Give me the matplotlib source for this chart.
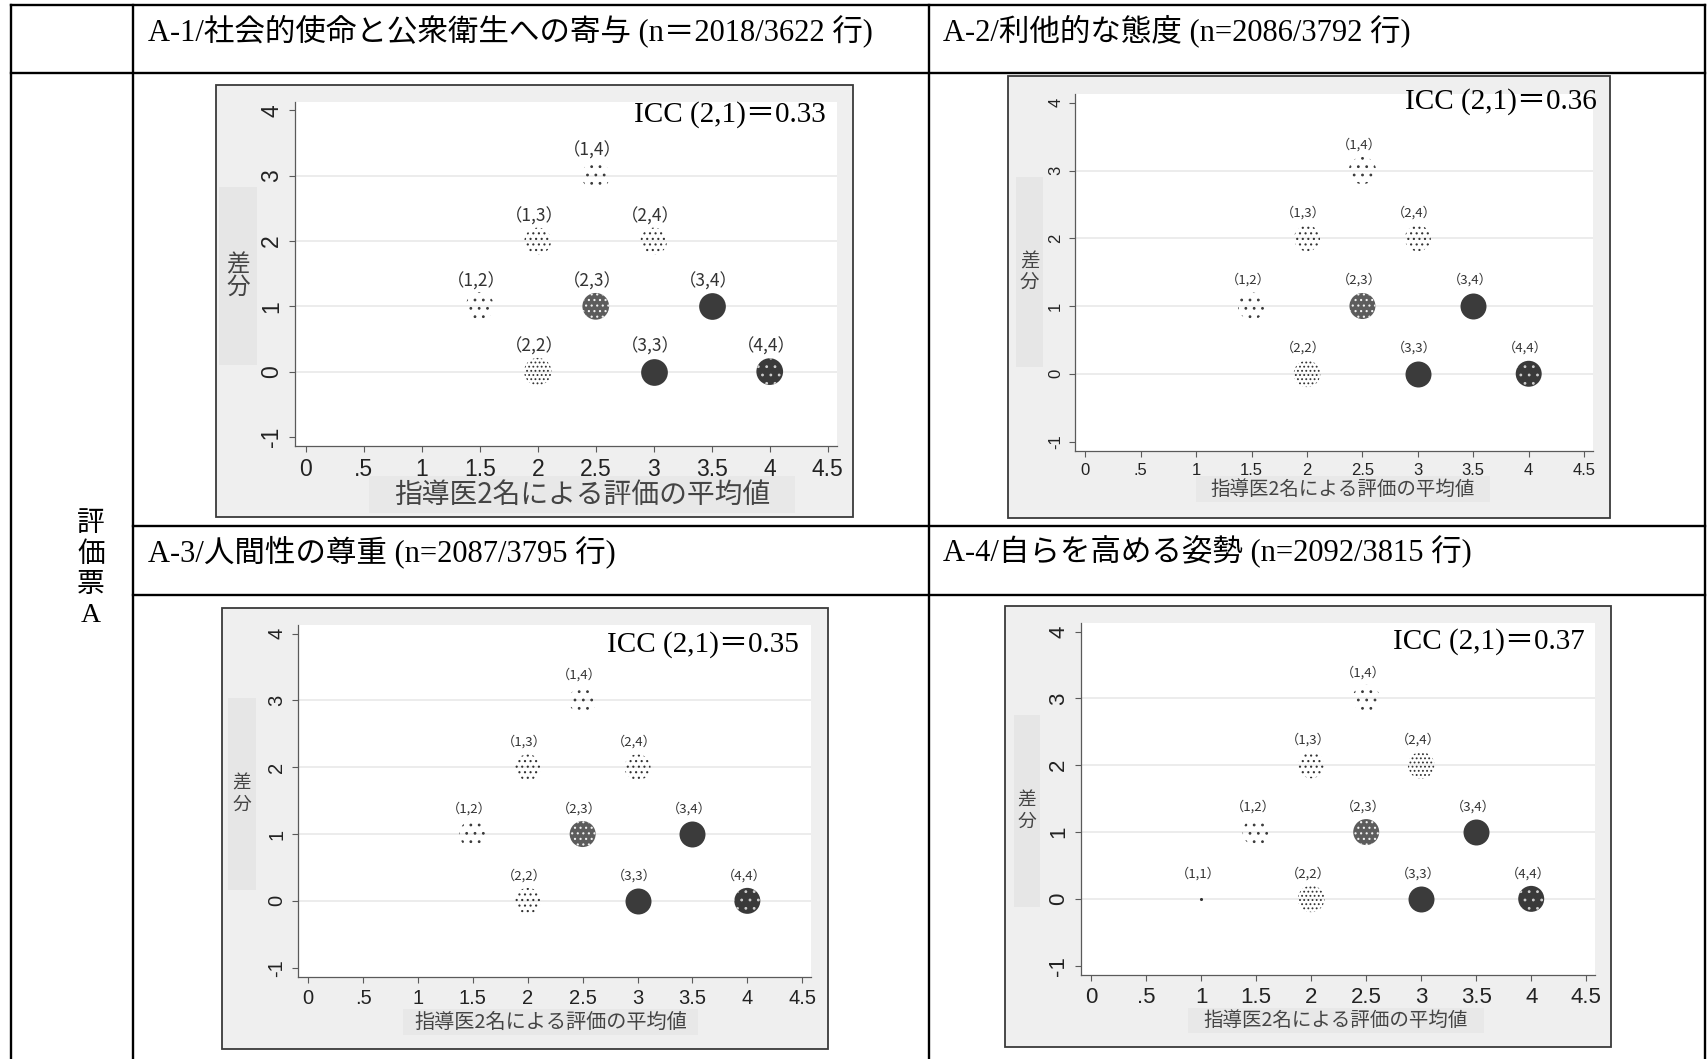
import matplotlib
matplotlib.use("Agg")
import matplotlib.pyplot as plt
from matplotlib.patches import Rectangle
from matplotlib.lines import Line2D

W, H = 1708, 1059

# ---------------- data ----------------
panel_titles = [
    "A-1/社会的使命と公衆衛生への寄与 (n＝2018/3622 行)",
    "A-2/利他的な態度 (n=2086/3792 行)",
    "A-3/人間性の尊重 (n=2087/3795 行)",
    "A-4/自らを高める姿勢 (n=2092/3815 行)",
]
row_label = "評価票A"
icc_values = [0.33, 0.36, 0.35, 0.37]
x_title = "指導医2名による評価の平均値"
y_title = "差分"
x_ticks = [0, 0.5, 1, 1.5, 2, 2.5, 3, 3.5, 4, 4.5]
x_tick_labels = ["0", ".5", "1", "1.5", "2", "2.5", "3", "3.5", "4", "4.5"]
y_ticks = [-1, 0, 1, 2, 3, 4]
y_grid = [0, 1, 2, 3]

# rater score pairs, mean of two raters, difference, and density level (0=single .. 6=solid)
pairs_a1 = ["1,2", "1,3", "1,4", "2,2", "2,3", "2,4", "3,3", "3,4", "4,4"]
mean_a1 = [1.5, 2.0, 2.5, 2.0, 2.5, 3.0, 3.0, 3.5, 4.0]
diff_a1 = [1, 2, 3, 0, 1, 2, 0, 1, 0]
dens_a1 = [1, 2, 1, 3, 4, 2, 6, 6, 5]

pairs_a2 = ["1,2", "1,3", "1,4", "2,2", "2,3", "2,4", "3,3", "3,4", "4,4"]
mean_a2 = [1.5, 2.0, 2.5, 2.0, 2.5, 3.0, 3.0, 3.5, 4.0]
diff_a2 = [1, 2, 3, 0, 1, 2, 0, 1, 0]
dens_a2 = [1, 2, 1, 3, 4, 2, 6, 6, 5]

pairs_a3 = ["1,2", "1,3", "1,4", "2,2", "2,3", "2,4", "3,3", "3,4", "4,4"]
mean_a3 = [1.5, 2.0, 2.5, 2.0, 2.5, 3.0, 3.0, 3.5, 4.0]
diff_a3 = [1, 2, 3, 0, 1, 2, 0, 1, 0]
dens_a3 = [1, 2, 1, 2, 4, 2, 6, 6, 5]

pairs_a4 = ["1,1", "1,2", "1,3", "1,4", "2,2", "2,3", "2,4", "3,3", "3,4", "4,4"]
mean_a4 = [1.0, 1.5, 2.0, 2.5, 2.0, 2.5, 3.0, 3.0, 3.5, 4.0]
diff_a4 = [0, 1, 2, 3, 0, 1, 2, 0, 1, 0]
dens_a4 = [0, 1, 2, 1, 3, 4, 3, 6, 6, 5]

panels_pairs = [pairs_a1, pairs_a2, pairs_a3, pairs_a4]
panels_mean = [mean_a1, mean_a2, mean_a3, mean_a4]
panels_diff = [diff_a1, diff_a2, diff_a3, diff_a4]
panels_dens = [dens_a1, dens_a2, dens_a3, dens_a4]

# ---------------- layout / style ----------------
plt.rcParams["hatch.linewidth"] = 0.8
SERIF = ["Liberation Serif", "Noto Sans CJK JP"]
CJK = ["Noto Sans CJK JP", "DejaVu Sans"]
SANS = ["Liberation Sans", "DejaVu Sans"]

# level -> facecolor, hatch color, hatch, size factor
LEVEL_STYLE = {
    0: ("#333333", "#333333", None, 0.02),
    1: ("none", "#3a3a3a", "..", 1.1),
    2: ("none", "#333333", "...", 1.0),
    3: ("none", "#333333", "....", 1.05),
    4: ("#5c5c5c", "#f2f2f2", "...", 1.0),
    5: ("#3a3a3a", "#cfcfcf", "..", 1.0),
    6: ("#3b3b3b", "#3b3b3b", None, 1.0),
}

# per panel geometry in pixels
GEOM = [
    dict(frame=(216, 85, 853, 517), plot=(295, 102, 837, 446), ybox=(219, 187, 257, 365),
         xbox=(369, 476, 795, 513), icc=(826, 115), tick=16.5, xt=20, yt=17, lab=12.5, s=370),
    dict(frame=(1008, 76, 1610, 518), plot=(1075, 94, 1593, 451), ybox=(1016, 177, 1043, 367),
         xbox=(1196, 476, 1490, 502), icc=(1597, 102), tick=12, xt=14, yt=14, lab=9.5, s=350),
    dict(frame=(222, 608, 828, 1049), plot=(298, 625, 811, 977), ybox=(228, 698, 256, 890),
         xbox=(403, 1009, 698, 1035), icc=(799, 645), tick=14.5, xt=14.5, yt=13.5, lab=9.5, s=350),
    dict(frame=(1005, 606, 1611, 1047), plot=(1081, 623, 1595, 975), ybox=(1014, 715, 1040, 907),
         xbox=(1188, 1008, 1484, 1033), icc=(1585, 642), tick=16, xt=14, yt=13.5, lab=9.5, s=350),
]

fig = plt.figure(figsize=(W / 100, H / 100), dpi=100)
fig.patch.set_facecolor("white")


def fx(x):
    return x / W


def fy(y):
    return 1 - y / H


def frect(x0, y0, x1, y1, **kw):
    r = Rectangle((fx(x0), fy(y1)), (x1 - x0) / W, (y1 - y0) / H,
                  transform=fig.transFigure, **kw)
    fig.add_artist(r)
    return r


# ---------------- table ----------------
def fline(x0, y0, x1, y1, lw=1.7):
    fig.add_artist(Line2D([fx(x0), fx(x1)], [fy(y0), fy(y1)], transform=fig.transFigure,
                          color="black", lw=lw, zorder=5))


fline(11, 5, 1705, 5)
fline(11, 73, 1705, 73)
fline(133, 526, 1705, 526)
fline(133, 595, 1705, 595)
fline(11, 5, 11, 1059)
fline(133, 5, 133, 1059)
fline(929, 5, 929, 1059)
fline(1705, 5, 1705, 1059)

header_pos = [(148, 31), (943, 31), (148, 552), (943, 552)]
for (hx, hy), t in zip(header_pos, panel_titles):
    fig.text(fx(hx), fy(hy), t, family=SERIF, fontsize=22, ha="left", va="center", color="black")

fig.text(fx(91), fy(570), "\n".join(row_label), family=SERIF, fontsize=20, ha="center",
         va="center", linespacing=1.25, color="black")

# ---------------- panels ----------------
for i, g in enumerate(GEOM):
    frect(*g["frame"], facecolor="#efefef", edgecolor="#3a3a3a", lw=1.3, zorder=-2)
    frect(*g["ybox"], facecolor="#e6e6e6", edgecolor="none", zorder=-1)
    frect(*g["xbox"], facecolor="#e8e8e8", edgecolor="none", zorder=-1)

    x0, y0, x1, y1 = g["plot"]
    ax = fig.add_axes([fx(x0), fy(y1), (x1 - x0) / W, (y1 - y0) / H])
    ax.set_facecolor("white")
    ax.set_xlim(-0.093, 4.58)
    ax.set_ylim(-1.14, 4.13)
    for sp in ("top", "right"):
        ax.spines[sp].set_visible(False)
    for sp in ("left", "bottom"):
        ax.spines[sp].set_color("#5a5a5a")
        ax.spines[sp].set_linewidth(0.9)
    ax.set_xticks(x_ticks)
    ax.set_xticklabels(x_tick_labels)
    ax.set_yticks(y_ticks)
    ax.set_yticklabels([str(v) for v in y_ticks])
    ax.tick_params(axis="both", direction="out", length=4.5, width=0.8, color="#5a5a5a",
                   labelsize=g["tick"], labelcolor="#222222", pad=4)
    ax.tick_params(axis="y", labelrotation=90)
    for lbl in ax.get_yticklabels():
        lbl.set_va("center")
    for lbl in ax.get_xticklabels() + ax.get_yticklabels():
        lbl.set_family(SANS)
    ax.hlines(y_grid, -0.093, 4.58, colors="#ebebeb", lw=1.3, zorder=0)

    means = panels_mean[i]
    diffs = panels_diff[i]
    dens = panels_dens[i]
    pairs = panels_pairs[i]
    for lvl, (fc, hc, hatch, sf) in LEVEL_STYLE.items():
        xs = [m for m, d in zip(means, dens) if d == lvl]
        ys = [v for v, d in zip(diffs, dens) if d == lvl]
        if not xs:
            continue
        ax.scatter(xs, ys, s=g["s"] * sf if lvl else 5, facecolors=fc, edgecolors=hc,
                   linewidths=0, hatch=hatch, zorder=3)
    for m, d, p in zip(means, diffs, pairs):
        ax.text(m - 0.03, d + 0.38, "（" + p + "）", family=CJK, fontsize=g["lab"],
                ha="center", va="center", color="#333333", zorder=4)

    # axis titles
    bx0, by0, bx1, by1 = g["ybox"]
    fig.text(fx((bx0 + bx1) / 2), fy((by0 + by1) / 2), "\n".join(y_title), family=CJK,
             fontsize=g["yt"], ha="center", va="center", color="#444444", linespacing=1.0)
    bx0, by0, bx1, by1 = g["xbox"]
    fig.text(fx((bx0 + bx1) / 2), fy((by0 + by1) / 2), x_title, family=CJK,
             fontsize=g["xt"], ha="center", va="center", color="#444444")

    ix, iy = g["icc"]
    fig.text(fx(ix), fy(iy), "ICC (2,1)＝%.2f" % icc_values[i], family=SERIF, fontsize=21,
             ha="right", va="center", color="black")

fig.savefig("out.png", dpi=100)
